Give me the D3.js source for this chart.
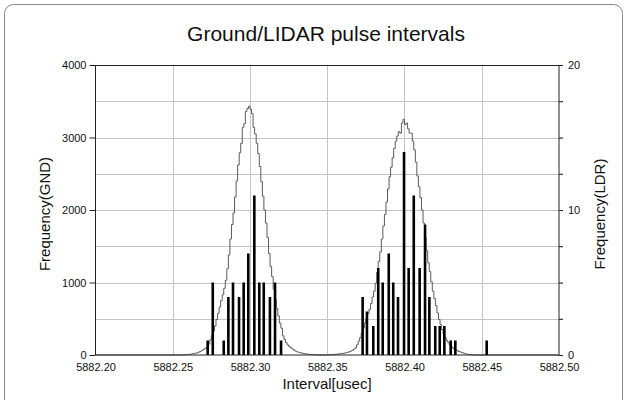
<!DOCTYPE html>
<html><head><meta charset="utf-8">
<script src="https://cdn.jsdelivr.net/npm/d3@7"></script>
<style>body{margin:0;background:#fff}text{font-family:"Liberation Sans",Arial,sans-serif}</style>
</head><body><svg id="c" width="627" height="400"></svg>
<script>
// ---- data ----
const title = "Ground/LIDAR pulse intervals";
const xTicks = [5882.20, 5882.25, 5882.30, 5882.35, 5882.40, 5882.45, 5882.50];
const gndTicks = [0, 1000, 2000, 3000, 4000];
const ldrTicks = [0, 10, 20];
const binWidth = 0.001;
// GND histogram (bin starts and counts)
const gndLeftStart = 5882.256;
const gndLeft = [2,3,4,6,8,10,14,18,23,28,35,45,55,68,82,95,110,150,210,270,330,400,490,575,660,750,830,920,1030,1190,1380,1600,1800,1960,2180,2400,2620,2790,2920,3140,3190,3360,3400,3430,3390,3330,3140,3050,2920,2780,2600,2390,2190,2000,1820,1620,1400,1220,1080,910,770,640,540,440,370,265,215,170,140,120,100,85,70,55,45,38,32,27,23,18,14,11,9,7,5,4,3,2];
const gndRightStart = 5882.350;
const gndRight = [2,3,4,5,7,9,11,14,17,20,23,27,32,38,45,55,65,80,100,140,190,240,300,370,440,500,570,630,710,800,880,990,1140,1290,1420,1600,1780,1940,2110,2290,2460,2590,2720,2850,2950,3020,3080,3060,3200,3250,3180,3200,3120,3060,3060,2950,2830,2660,2470,2320,2170,2000,1820,1620,1440,1270,1150,1010,880,780,680,580,490,420,350,290,240,200,170,140,115,95,80,70,58,48,40,32,25,18,12,8,5,3,1];
// LIDAR intervals and counts
const ldrX = [5882.2726,5882.2759,5882.2830,5882.2860,5882.2890,5882.2929,5882.2959,5882.2989,5882.3028,5882.3060,5882.3089,5882.3129,5882.3162,5882.3201,
  5882.3729,5882.3757,5882.3798,5882.3830,5882.3859,5882.3898,5882.3927,5882.3958,5882.3997,5882.4027,5882.4060,5882.4098,5882.4133,5882.4161,5882.4199,5882.4228,5882.4258,5882.4299,5882.4329,5882.4532];
const ldrY = [1,5,1,4,5,4,5,7,11,5,5,4,5,1, 4,3,2,6,5,7,5,4,14,6,11,6,9,4,2,2,2,1,1,1];

// ---- drawing ----
const svg = d3.select("#c");
const x = d3.scaleLinear().domain([5882.20, 5882.50]).range([95.5, 559]);
const yG = d3.scaleLinear().domain([0, 4000]).range([355, 65]);
const yL = d3.scaleLinear().domain([0, 20]).range([355, 65]);

// frame
svg.append("rect").attr("x", 4.5).attr("y", 4.5).attr("width", 618).attr("height", 430)
  .attr("rx", 9).attr("fill", "none").attr("stroke", "#8a8a8a").attr("stroke-width", 1);

// grid
const gridC = "#c4c4c4";
const gy = d3.range(500, 4000, 500);
svg.append("g").selectAll("line").data(gy).join("line")
  .attr("x1", x.range()[0]).attr("x2", x.range()[1] + 4)
  .attr("y1", d => Math.round(yG(d)) + 0.5).attr("y2", d => Math.round(yG(d)) + 0.5)
  .attr("stroke", gridC);
svg.append("g").selectAll("line").data(xTicks.slice(1, -1)).join("line")
  .attr("x1", d => Math.round(x(d)) + 0.5).attr("x2", d => Math.round(x(d)) + 0.5)
  .attr("y1", yG(4000)).attr("y2", yG(0))
  .attr("stroke", gridC);

// GND step histogram
function bins(start, arr) { return arr.map((v, i) => [start + i * binWidth, v]); }
const pts = [[5882.20, 0]]
  .concat(bins(gndLeftStart, gndLeft)).concat([[gndLeftStart + gndLeft.length * binWidth, 0]])
  .concat(bins(gndRightStart, gndRight)).concat([[gndRightStart + gndRight.length * binWidth, 0]])
  .concat([[5882.50, 0]]);
const line = d3.line().x(d => x(d[0])).y(d => yG(d[1])).curve(d3.curveStepAfter);
svg.append("path").attr("d", line(pts)).attr("fill", "none").attr("stroke", "#5a5a5a").attr("stroke-width", 1);

// LIDAR bars
const bw = 2.6;
svg.append("g").selectAll("rect").data(ldrX.map((d, i) => [d, ldrY[i]])).join("rect")
  .attr("x", d => x(d[0]) - bw / 2).attr("width", bw)
  .attr("y", d => yL(d[1])).attr("height", d => yL(0) - yL(d[1]))
  .attr("fill", "#000");

// axes
const axC = "#222";
const left = svg.append("g").attr("transform", `translate(${x.range()[0]},0)`)
  .call(d3.axisLeft(yG).tickValues(gndTicks).tickSize(6).tickPadding(3).tickFormat(d3.format("d")));
const right = svg.append("g").attr("transform", `translate(${x.range()[1]},0)`)
  .call(d3.axisRight(yL).tickValues(d3.range(0, 20.1, 2.5)).tickSize(4).tickPadding(5)
    .tickFormat(d => ldrTicks.includes(d) ? d3.format("d")(d) : ""));
const bottom = svg.append("g").attr("transform", `translate(0,${yG(0)})`)
  .call(d3.axisBottom(x).tickValues(xTicks).tickSize(0).tickPadding(8).tickFormat(d3.format(".2f")));
svg.append("line").attr("x1", x.range()[0]).attr("x2", x.range()[1] + 4)
  .attr("y1", yG(4000) + 0.5).attr("y2", yG(4000) + 0.5).attr("stroke", axC);
[left, right, bottom].forEach(g => {
  g.select(".domain").attr("stroke", axC);
  g.selectAll(".tick line").attr("stroke", axC);
  g.selectAll("text").attr("font-size", 11).attr("fill", "#111")
    .attr("font-family", '"Liberation Sans", Arial, sans-serif');
});
right.select(".domain").attr("d", `M0,${yL(20)}V${yL(0)}`);
left.select(".domain").attr("d", `M0,${yG(4000)}V${yG(0)}`);
bottom.select(".domain").attr("d", `M${x.range()[0]},0H${x.range()[1]}`);

// titles
svg.append("text").attr("x", 326).attr("y", 41).attr("text-anchor", "middle")
  .attr("font-size", 21).attr("fill", "#111").text(title);
svg.append("text").attr("x", 327).attr("y", 389).attr("text-anchor", "middle")
  .attr("font-size", 15).attr("fill", "#111").text("Interval[usec]");
svg.append("text").attr("transform", "translate(50,214) rotate(-90)").attr("text-anchor", "middle")
  .attr("font-size", 15).attr("fill", "#111").text("Frequency(GND)");
svg.append("text").attr("transform", "translate(605,214) rotate(-90)").attr("text-anchor", "middle")
  .attr("font-size", 15).attr("fill", "#111").text("Frequency(LDR)");
</script></body></html>
